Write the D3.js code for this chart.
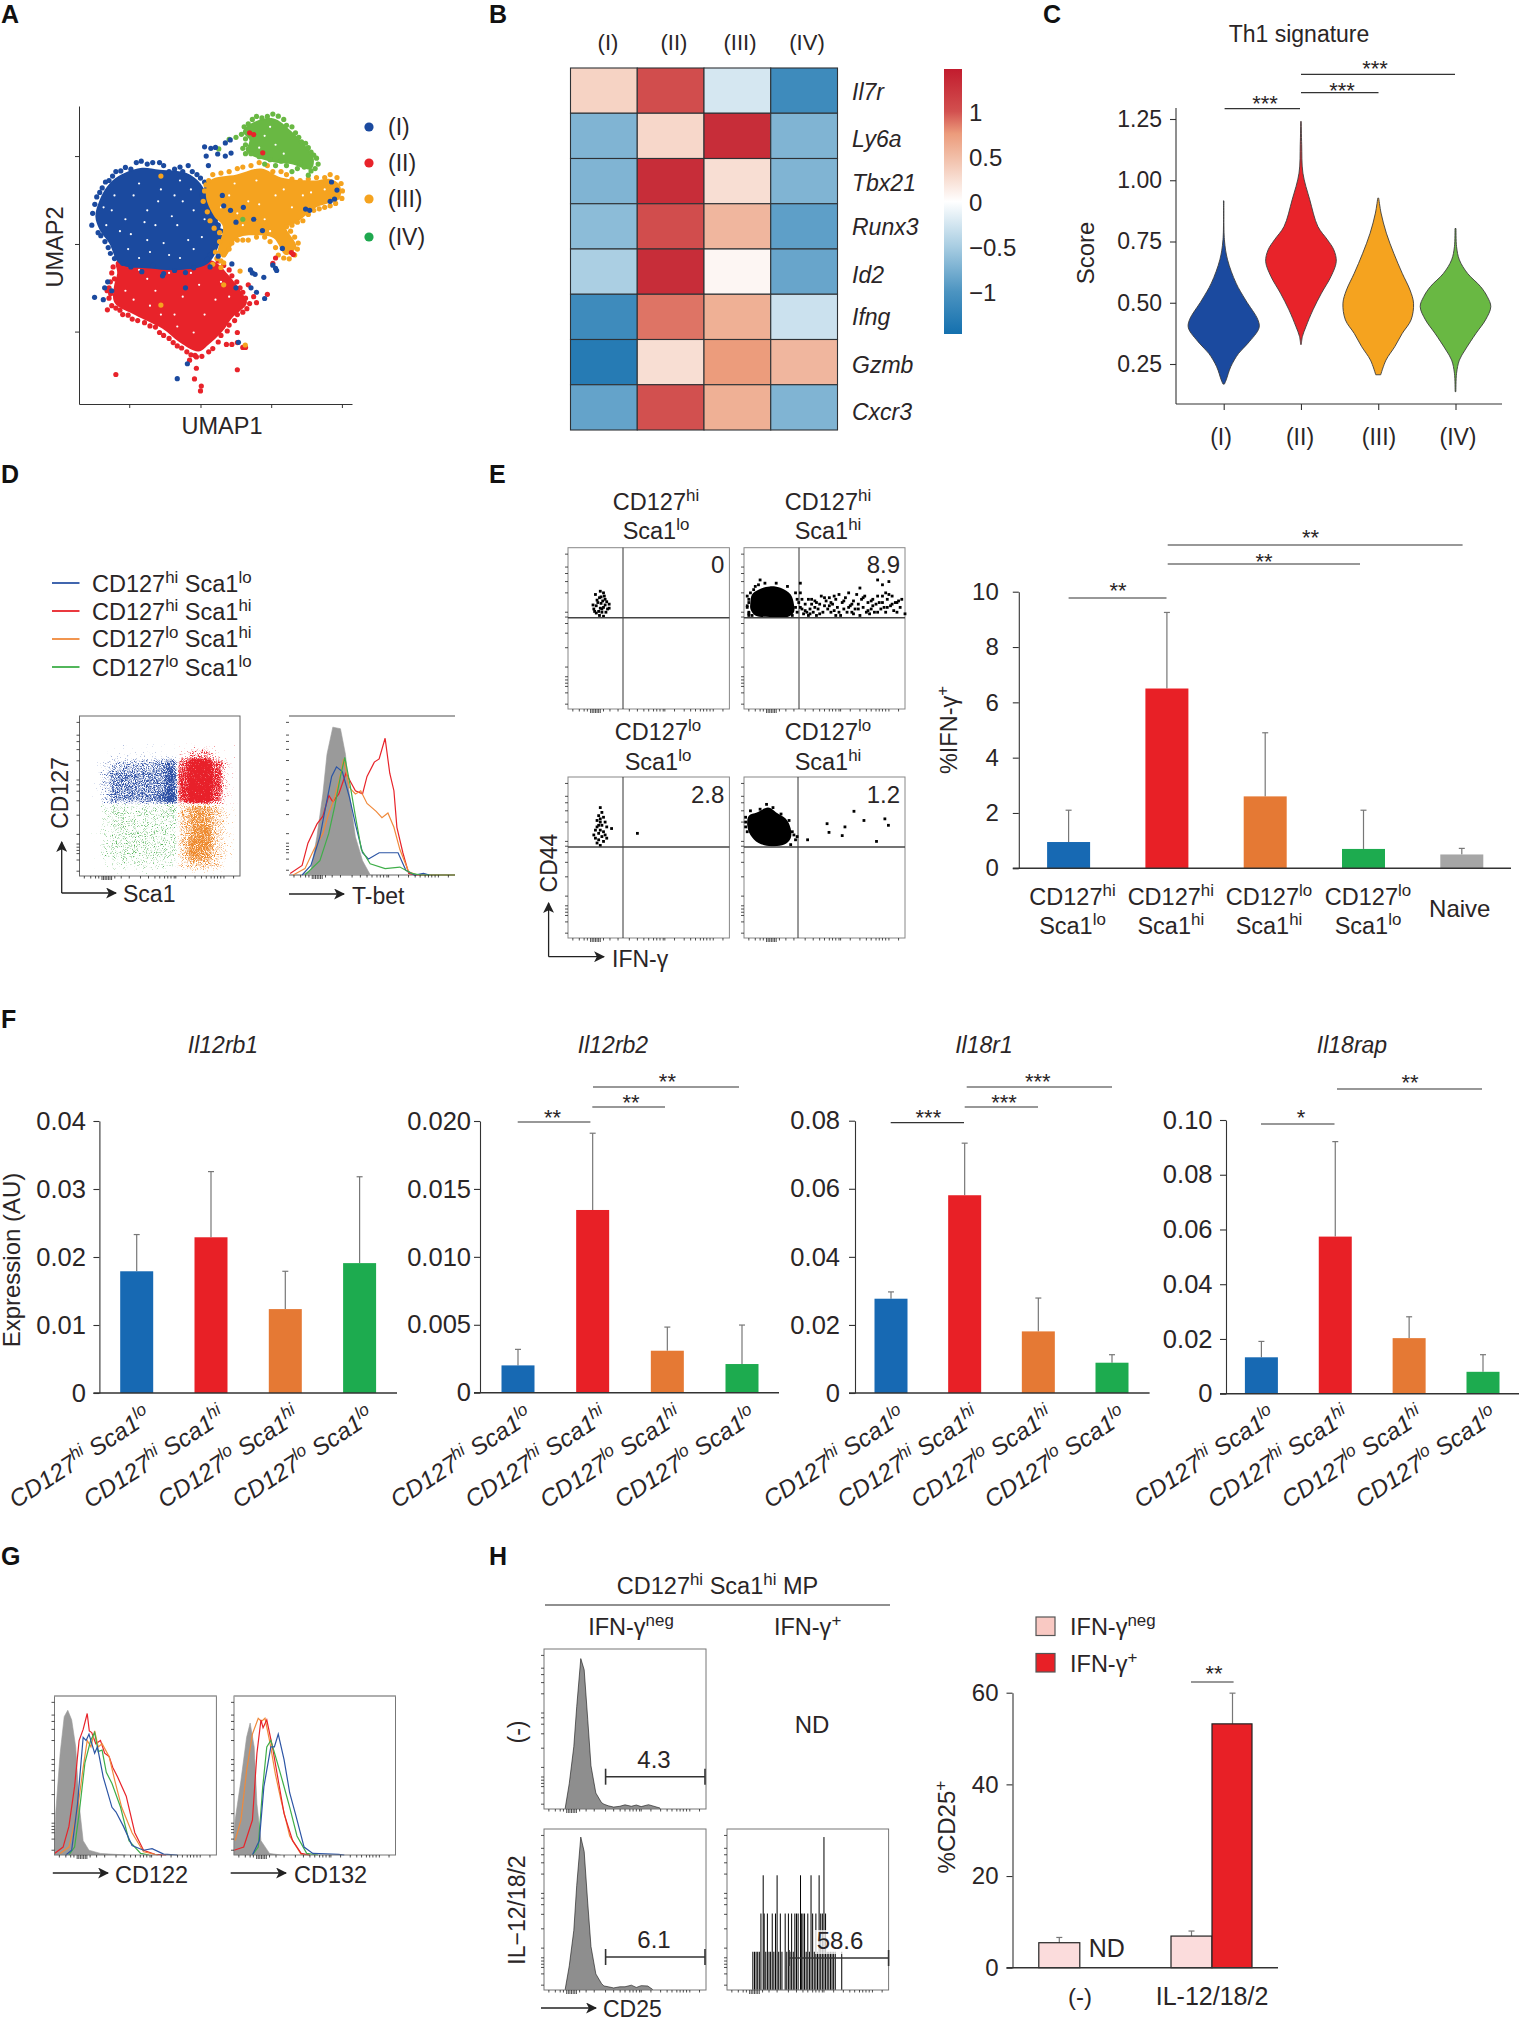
<!DOCTYPE html>
<html><head><meta charset="utf-8">
<script src="https://cdn.jsdelivr.net/npm/d3@7"></script>
<style>
html,body{margin:0;padding:0;background:#fff}
text{font-family:"Liberation Sans",Arial,sans-serif;fill:#2a2526}
</style></head><body>
<script>
// ---------- Shared colours / categories ----------
const clusterNames=["(I)","(II)","(III)","(IV)"];
const clusterColors=["#1b4a9f","#e8232a","#f5a31f","#69b843"];
const clusterDots=["#1b4a9f","#e8232a","#f5a31f","#1fa84f"];
const gateLabels=["CD127{hi} Sca1{lo}","CD127{hi} Sca1{hi}","CD127{lo} Sca1{hi}","CD127{lo} Sca1{lo}"];
const gateColors=["#1769b3","#e82026","#e57934","#1dab4f"];
const lineColors=["#2c55a5","#e8232a","#f08a3c","#3fae49"];

// ---------- A: UMAP ----------
const umapXTicks=[18.4,44.5,70.4,96.3], umapYTicks=[83.2,53.7,24.3];
const umapCoreI=[[6,62.9],[7.6,68.5],[10.3,73],[14.5,76.5],[22.5,79.2],[29.6,78.6],[39.4,77.5],[44.5,74],[47.5,68.5],[50,62.9],[52,58.4],[51,52.8],[47,47],[36.7,45],[26,45.5],[15,47],[11,54],[7.6,58.4]];
const umapCoreII=[[13.7,47.8],[24.3,48],[38.5,48],[49.1,48],[55,43],[59.5,37.5],[61.5,33.9],[56,28.8],[52.5,24.3],[47.3,19.8],[43.8,17.6],[36.7,20.8],[30.5,25.3],[20.7,29.8],[13,34],[12.8,39.4],[14,43.9]];
const umapCoreIII=[[48,75],[57.8,77],[66.8,79],[74,76],[86.4,75],[92,75.5],[95.5,73.5],[95.5,69],[92,67.5],[87,66],[82,62.5],[78,60],[75.7,59.6],[79.6,52.8],[75.7,50],[71.3,55.6],[65,56.6],[58,55.6],[53.5,49.5],[51,50.7],[52.7,59.6],[49.5,63],[46.5,69.6]];
const umapCoreIV=[[60,91.4],[65,95],[71.3,95.8],[77.5,91.8],[82.8,86.8],[86,82.2],[85,78.8],[77.5,80.5],[70.4,81.3],[61.5,84.6],[62.4,88.6]];
const umapEdgeI=[[4.7,60],[5,64],[5.8,67],[6.5,69.5],[7.6,71],[8.5,72.5],[9.7,74.5],[11,75],[12.3,76.5],[13.5,78],[15.3,78.2],[17,79.4],[19,78.8],[21,81],[22.8,81.5],[25,80.5],[27,81],[29.5,81],[31,80],[33,78],[35,78.8],[37,79.5],[38,78],[40,80],[41.5,78],[43.2,77],[44.5,75.8],[46,74.5],[46.5,72],[45,70],[47.5,69.5],[47,66],[49.5,65],[50,62],[51,60],[52,58],[52.3,55.8],[50.5,54],[49.5,51.5],[48,50],[47,48.5],[8,56.5],[9.5,54.5],[10.7,52.5],[11.5,50.5],[13,48.8],[7,57.5],[16,47.2],[19,46],[23,44.4],[27,46.5],[31,43.8],[35,44.8],[39,44.1],[42,45.7]];
const umapEdgeII=[[12.5,46],[12,44],[13,42],[11.5,41],[11,39],[11.6,37],[11,35.5],[12,33],[13.5,32.2],[15,31.5],[16,30],[18,29.8],[19.5,28.5],[21.5,28],[24,27.3],[26,26.2],[28,25.8],[29.5,24],[31,23],[33,22],[34.5,20.6],[36,19.5],[37.6,18.8],[39.5,17.5],[41,16.5],[43,15.8],[45,16],[47.5,17.5],[49,18.6],[51,20.8],[52,23],[54.3,24.5],[55,26.5],[57,28],[58,30],[60,30.8],[61.5,32],[62.5,33.7],[61,35.5],[60,37.5],[59,39],[57.8,41],[56,43],[55,45],[53,46.5],[51,48]];
const umapEdgeIII=[[46,71.5],[45.5,68],[47,64.5],[48,61.5],[49.5,59],[51.5,57.5],[51.5,54.5],[50,51],[50.5,48.8],[52,48],[53,50],[55,52],[56,54],[58,55],[60,55],[62,55],[65,56],[68,56],[70,54.5],[72,52.5],[73,50],[75,49],[77,48.7],[79,50],[80,52],[80.3,54],[79,56],[77.5,58],[76,59.5],[78,60],[80,61],[82,61.5],[84,63.6],[86,65],[88,65.5],[90,66],[92,66.5],[94,67.3],[96.3,69],[96.5,71.5],[96,74],[94.5,76],[92,77],[90,76],[87,76],[84,75.5],[81,75],[78,75.5],[76,77],[74,78],[71,78],[69,80],[66,81],[63,80],[60,79.5],[58,79],[55,78],[52,77.5],[49,77],[47.5,75],[46.5,73.5]];
const umapEdgeIV=[[59.5,90.5],[60.5,93],[62,94],[63.5,95.5],[65,96.5],[67,96],[69,96.5],[71,97.3],[73,96.6],[75,95.5],[76,93.5],[78,93],[79.3,91],[80.5,89.5],[81.5,88],[83,87.5],[84,86],[85,84.5],[86,83.5],[87,82.5],[87.6,80.5],[86.5,79],[85,78.2],[84,76.8],[82.5,79.5],[81,81],[80,79],[78,78],[76,80],[74,81.5],[72,80],[70,82],[68,80.5],[66,83],[63,84],[61,84],[60,85.8],[61,87],[62,85.5],[61,89]];
const umapHolesI=[[15,58],[20,70],[25,65],[30,72],[36,60],[40,55],[18,52],[25,55],[33,50],[42,65],[12,65],[28,60],[35,70],[22,74],[45,56],[38,68],[17,62],[31,54],[26,51],[42,52],[10,60],[24,61],[37,75],[13,70],[19,57],[29,68],[34,63],[41,72],[46,62],[22,49],[37,49],[9,66]];
const umapHolesII=[[20,35],[28,38],[35,30],[44,40],[38,36],[25,42],[50,35],[33,44],[17,38],[46,30],[55,36],[42,24],[30,30],[22,45],[41,44],[52,41],[36,26],[26,33]];
const umapHolesIII=[[55,70],[62,68],[68,62],[72,70],[60,60],[78,66],[85,71],[65,75],[52,66],[70,58],[57,74],[75,72],[82,70],[90,72],[58,64],[66,67]];
const umapHolesIV=[[68,90],[72,87],[75,84],[66,86],[70,93]];
const umapDotsI=[[47.4,80],[46,86.3],[46.6,83.2],[48.3,85.8],[50,86.1],[53.6,87.6],[55.4,88.6],[55.7,84.2],[53.6,83.2],[50.8,83.9],[52.5,70],[53,66.5],[55.5,65],[57.5,61],[60.2,66],[64,62],[67.2,58.2],[83,65.4],[84.5,65],[92,68],[93.6,68.8],[92.5,74.5],[94.5,71.8],[5.7,35.8],[8.9,35],[9.4,39],[10.5,41],[12,38],[56,47],[57.5,39],[62.8,45],[64.5,43.5],[67.7,42.5],[72,45.5],[72.4,44.8],[63,39],[68,35.4],[65,37.5],[63.5,44],[30.6,43],[39,39],[48,46],[51,49.6],[58.4,20.7],[39.7,13.5],[36,8.5],[74.5,52.2],[71,46.6]];
const umapDotsII=[[10.3,38],[10.4,31.6],[58,24],[62,40],[64,36],[69,36.8],[58,11.5],[42.5,16.3],[40.5,14.7],[43,12],[42.3,8.4],[44.8,6],[44.5,4.4],[13.5,9.9],[65,34],[71,47.2],[72,49],[78.5,50.2],[77.8,50.8],[62.5,91],[64,90.4],[67.3,84.3],[56,20],[58,20.6],[60,19],[61,19],[54,20]];
const umapDotsIII=[[53,47.4],[52,45.8],[49,46.9],[59,44.6],[53,40],[60.9,19.8],[30,33.2],[30,76.5]];
const umapDotsIV=[[57.5,89.5],[55,88.8],[51.2,85.6],[60,62]];

// ---------- B: heatmap ----------
const heatColumns=["(I)","(II)","(III)","(IV)"];
const heatRows=["Il7r","Ly6a","Tbx21","Runx3","Id2","Ifng","Gzmb","Cxcr3"];
const heatValues=[[0.33,1.03,-0.24,-1.12],[-0.72,0.3,1.32,-0.72],[-0.72,1.32,0.25,-0.72],[-0.65,1.03,0.55,-0.9],[-0.48,1.32,0.07,-0.85],[-1.12,0.88,0.6,-0.3],[-1.32,0.25,0.75,0.55],[-0.87,1.0,0.6,-0.72]];
const heatDomain=[-1.47,-1,-0.5,0,0.5,0.75,1,1.47];
const heatRange=["#1470ae","#4c94c1","#a8cde2","#ffffff","#f1bda6","#ec9c7c","#d2504f","#c21c2e"];
const heatTicks=[1,0.5,0,-0.5,-1];

// ---------- C: violins (score, relative density) ----------
const violinI=[[0.916,0.007],[0.757,0.02],[0.675,0.11],[0.58,0.35],[0.511,0.62],[0.43,0.97],[0.397,1],[0.335,0.69],[0.293,0.42],[0.239,0.2],[0.185,0.07],[0.168,0.02]];
const violinII=[[1.24,0.007],[1.145,0.02],[1.029,0.055],[0.92,0.25],[0.811,0.48],[0.757,0.75],[0.716,0.93],[0.668,1],[0.607,0.85],[0.539,0.58],[0.471,0.34],[0.402,0.14],[0.362,0.04],[0.33,0.01]];
const violinIII=[[0.927,0.014],[0.866,0.08],[0.784,0.23],[0.702,0.44],[0.62,0.68],[0.552,0.9],[0.498,1],[0.43,0.93],[0.375,0.68],[0.321,0.47],[0.266,0.22],[0.206,0.07]];
const violinIV=[[0.803,0.014],[0.729,0.03],[0.675,0.11],[0.62,0.34],[0.566,0.71],[0.525,0.9],[0.484,1],[0.43,0.85],[0.375,0.58],[0.307,0.27],[0.266,0.11],[0.212,0.03],[0.137,0.01]];
const violinTicks=[1.25,1.00,0.75,0.50,0.25];

// ---------- D: flow density + T-bet histogram ----------
const densityCD127Sca1=[
 [0,1,1,1,1,1,1,2,4,4,2,0],
 [2,4,4,4,4,5,6,6,9,9,6,2],
 [3,5,5,5,5,5,7,7,9,9,7,2],
 [3,5,5,5,5,5,7,7,9,9,7,2],
 [3,5,5,5,5,6,8,7,9,9,6,2],
 [2,3,3,3,3,3,4,4,6,6,4,2],
 [2,3,3,3,3,3,3,4,6,6,4,2],
 [2,3,3,3,3,3,3,4,6,7,4,2],
 [2,3,3,3,3,3,3,4,7,7,4,2],
 [2,3,3,3,3,3,3,4,7,6,4,2],
 [1,2,2,2,2,2,2,3,4,4,3,1]];
const tbetGray=[[0,0],[7.9,0],[13.2,3],[16.8,24],[20.4,51],[22.9,76],[26.4,93],[31,92],[34,76],[36.4,51],[40,24],[44.3,9],[49,0]];
const tbetRed=[[0.7,1],[7.9,6],[11.4,20],[16.8,32],[20.4,37],[24,50],[26.4,46],[30,51],[34.3,64],[40,53],[44.3,51],[47,62],[51.4,71],[54.3,73],[57.9,86],[60.7,64],[63.2,53],[65,30],[68.6,14],[72.1,1],[75.7,0],[100,0]];
const tbetOrange=[[2.5,0],[9.6,4],[15,16],[20.4,26],[24,39],[27.5,49],[30.3,60],[32.9,73],[36.4,55],[40,51],[43.2,53],[47,45],[52.5,40],[56,36],[59.6,39],[63.2,30],[66.8,16],[72.1,2],[77.5,0]];
const tbetBlue=[[7.9,0],[13.2,6],[18.6,24],[22.1,43],[25.7,62],[28.6,68],[32.1,65],[36.4,49],[40,32],[44.3,14],[47.9,10],[54.3,14],[59.6,14],[65.7,14],[70.4,3],[75.7,0],[81,1],[84.6,0]];
const tbetGreen=[[9.6,0],[18.6,9],[23.9,26],[27.5,43],[31,62],[33.6,74],[36.4,59],[40,37],[43.6,16],[48.9,7],[57.9,4],[66.8,5],[73.9,1],[79.3,0],[100,0]];
const flowTicks=[3,7,10,12,14,15,16,17,18,19,20,22,26,31,38,43,47,50,53,55,57,59,60,66,72,76,79,82,84,86,88,90,96];

// ---------- E: IFN-γ plots and bars ----------
const dotsP1=[[17,71],[20,73],[22,72],[19.5,69],[22.5,70],[24,66.5],[18.5,66],[20.5,65.5],[23,64.5],[25.5,65],[17.5,64],[20,62.5],[22,63],[24.5,62],[16,62],[19,60.5],[21,60],[23.5,60],[25.5,62.5],[19.5,58],[22,57.5],[17.5,59.5],[21.5,67],[20.5,69.5],[15.5,64.5],[18,67.5],[21,62],[23,68],[16.5,60.5]];
const coreP2=[[4,66],[5,71],[9,74],[16,76],[23,75],[29,71],[31,65],[31,60],[27,57],[16,57],[7,58],[4,62]];
const dotsP2=[[2,70],[3,66],[4,72],[2,63],[3,60],[3,59],[3,68],[6,74],[2,64],[3,58],[7,76],[5,58],[9,77],[10,80],[13,78],[20,78],[27,76],[32,72],[33,68],[32,63],[33,60],[30,58],[34,66],[35,72],[35,78],[36,62],[37,59],[38,65],[39,60],[40,58],[41,62],[42,65],[42,68],[43,60],[44,63],[44,67],[45,58],[46,62],[47,65],[48,70],[49,60],[50,64],[51,67],[52,62],[53,69],[54,60],[55,65],[56,61],[57,68],[58,63],[59,71],[60,58],[61,66],[62,62],[63,69],[64,60],[65,72],[66,64],[67,60],[68,67],[69,62],[70,71],[71,65],[72,58],[73,68],[74,63],[75,70],[76,60],[77,66],[78,59],[79,62],[80,68],[81,60],[82,65],[83,70],[84,66],[85,62],[86,66],[87,63],[88,60],[89,68],[90,71],[91,64],[92,70],[93,61],[94,66],[95,60],[96,67],[97,63],[100,59],[83,80],[90,79],[72,75],[86,77],[45,66],[47,59],[50,69],[53,64],[56,70],[59,60],[62,67],[65,63],[68,59],[71,62],[74,69],[77,61],[80,64],[83,60],[86,70],[89,63],[92,65],[95,66],[98,68],[88,72],[79,67],[67,65],[54,66],[41,59],[38,61],[35,63],[36,68],[40,68],[57,58]];
const dotsP3=[[20,81],[21,78],[19,76],[22,75],[18,73],[20,72],[23,72],[21,70],[18,69],[24,69],[17,67],[20,67],[22,66],[27,68],[19,65],[23,64],[16,64],[21,63],[24,62],[19,61],[22,60],[18,59],[20,57.5],[43,65],[19,70],[17,62],[20,74]];
const coreP4=[[2,70],[3,76],[8,78],[15,81],[20,78],[26,74],[29,68],[29,62],[25,58],[17,57],[9,59],[4,64]];
const dotsP4=[[1,75],[1,72],[1,69],[2,66],[4,79],[10,80],[14,83],[18,81],[23,77],[28,73],[30,66],[31,64],[33,63],[29,58],[32,61],[39.5,61],[51.6,71],[52.8,65.6],[61,63.6],[62.7,69],[68.3,78.7],[74.5,73],[82.3,60],[87.5,74],[89.7,70]];
const ifnCats=["CD127{hi}|Sca1{lo}","CD127{hi}|Sca1{hi}","CD127{lo}|Sca1{hi}","CD127{lo}|Sca1{lo}","Naive"];
const ifnValues=[0.95,6.5,2.6,0.7,0.5];
const ifnErrTop=[2.1,9.25,4.9,2.1,0.72];
const ifnColors=["#1769b3","#e82026","#e57934","#1dab4f","#a6a6a6"];
const ifnTicks=[0,2,4,6,8,10];

// ---------- F: expression bars ----------
const il12rb1Values=[0.0179,0.0229,0.01234,0.0191], il12rb1Err=[0.0233,0.03256,0.0179,0.0318];
const il12rb2Values=[0.00201,0.01345,0.00309,0.00211], il12rb2Err=[0.00319,0.0191,0.00483,0.00498];
const il18r1Values=[0.0277,0.0581,0.0181,0.0089], il18r1Err=[0.0297,0.0734,0.0279,0.01125];
const il18rapValues=[0.0133,0.0574,0.0203,0.008], il18rapErr=[0.0191,0.0921,0.0281,0.01425];
const il12rb1Ticks=["0","0.01","0.02","0.03","0.04"];
const il12rb2Ticks=["0","0.005","0.010","0.015","0.020"];
const il18r1Ticks=["0","0.02","0.04","0.06","0.08"];
const il18rapTicks=["0","0.02","0.04","0.06","0.08","0.10"];

// ---------- G: histograms ----------
const cd122Gray=[[0,0],[0.7,26],[3.5,64],[6,87],[8.2,91],[10.6,85],[13.1,68],[15.2,32],[17.7,9],[21.3,3],[28.4,1],[44,0]];
const cd122Red=[[0,1],[5.3,5],[8.9,18],[12.4,43],[15.2,72],[17.7,79],[20.2,89],[21.5,78],[23,77],[25.5,70],[28.4,72],[31,64],[33.7,62],[36,55],[39,49],[44.3,37],[49.6,14],[55,3],[62,0.4],[69,0]];
const cd122Orange=[[3.5,1],[8.9,5],[14.2,28],[17.7,55],[20.2,72],[22.5,68],[24.8,78],[27,68],[29.4,70],[33.7,62],[37.2,47],[41.5,30],[47.9,14],[55,2],[63.8,0]];
const cd122Green=[[8.9,0],[12.4,5],[15.2,26],[18.8,58],[22.3,72],[24.8,77],[27,65],[29.4,66],[32,52],[35.5,45],[40.8,30],[46,9],[53.2,1],[58.5,0]];
const cd122Blue=[[7,0],[10.6,3],[14.2,32],[17.7,74],[19.5,72],[21.3,76],[24.8,64],[26.5,68],[30.1,49],[35.5,30],[38,27],[42.6,18],[47.9,6],[55,3],[60.3,4],[67.4,0.6],[76,0]];
const cd132Gray=[[0,0],[0.7,22],[4.3,47],[7.8,74],[10,83],[12.5,68],[14.2,32],[16.7,9],[22,1],[29,0]];
const cd132Orange=[[0.7,9],[4.3,22],[7.8,53],[11.4,76],[15,86],[17,84],[19.2,86],[22,72],[25.6,51],[29,35],[34.5,12],[41.6,0.4],[47,0]];
const cd132Red=[[0,3],[6,5],[11.4,22],[14.2,64],[16.7,85],[18,80],[20.3,85],[23.8,68],[27.4,47],[31,26],[36.3,9],[41.6,1],[47,0]];
const cd132Green=[[11.4,0],[15,5],[17.8,43],[20.3,68],[22.8,72],[26.3,60],[29.9,47],[34.5,30],[39,12],[45,1],[52,0]];
const cd132Blue=[[11.4,0],[15.7,9],[18.5,43],[22.8,68],[25,68],[27.4,76],[31,60],[34.5,39],[38,26],[43.4,5],[48.8,1],[64.8,0.4],[68.3,0]];

// ---------- H: CD25 ----------
const cd25Unstim=[[13.1,0.6],[15.6,16],[18.4,39],[20.2,64],[22.7,94],[24.8,87],[27,56],[29,27],[32,10],[35.5,4],[37,3],[39.7,2],[43,1.2],[46.8,1.7],[50,2.6],[53.9,1.7],[57,2.5],[60,1.5],[64.5,2.7],[71.6,0.6]];
const cd25Stim=[[13.1,0.6],[15.6,15],[18.4,37],[20.2,65],[22.7,95],[24.8,86],[27,54],[29,27],[32,10],[35.5,4],[37,2.5],[39.7,2],[43,1.3],[46.8,2],[50,2],[53.9,3],[57,1.6],[60,2.7],[64,2.5],[67,0.4]];
const cd25PosSpikes=[[16,1],[17,1],[18,1],[19,1],[20,1],[21,2],[22.4,3],[23,2],[24,1],[25,2],[26,1],[27,1],[28,2],[29,1],[30,2],[31,3],[32,1],[33,2],[34,1],[36,2],[37,1],[38,2],[39,1],[40,2],[41,1],[42,2],[43,2],[44,2],[45.5,3],[46,2],[47,2],[48,2],[49,1],[50,2],[51,1],[52,3],[53,2],[54,1],[55,2],[56,1],[57,3],[58,2],[59,2],[60,4],[61,2],[62,1],[63,1],[64,1],[65,1],[66,1],[67,1],[71,1]];
const cd25Categories=["(-)","IL-12/18/2"];
const cd25NegValues=[5.45,6.9], cd25NegErr=[6.6,8];
const cd25PosValue=53.2, cd25PosErr=59.9;
const cd25Ticks=[0,20,40,60];

// ========== drawing ==========
const svg=d3.select("body").append("svg").attr("width",1519).attr("height",2019).style("display","block");
const defs=svg.append("defs");
const ink="#2a2526";

function rich(g,x,y,str,o={}){
  const fs=o.size||23, t=g.append("text").attr("x",x).attr("y",y).attr("font-size",fs)
    .attr("text-anchor",o.anchor||"start");
  if(o.italic)t.attr("font-style","italic");
  if(o.transform)t.attr("transform",o.transform);
  if(o.fill)t.style("fill",o.fill);
  if(o.weight)t.attr("font-weight",o.weight);
  const parts=str.split(/(\{[^}]*\})/).filter(s=>s.length);
  const rise=fs*0.38; let raised=false;
  parts.forEach(p=>{
    const sup=p[0]==="{";
    const s=t.append("tspan").text(sup?p.slice(1,-1):p);
    if(sup){s.attr("font-size",fs*0.72).attr("dy",-rise);raised=true;}
    else if(raised){s.attr("dy",rise);raised=false;}
  });
  return t;
}
function vtext(g,x,y,str,o={}){return rich(g,x,y,str,{...o,anchor:"middle",transform:`rotate(-90 ${x} ${y})`});}
function seg(g,x1,y1,x2,y2,c=ink,w=1.2){return g.append("line").attr("x1",x1).attr("y1",y1).attr("x2",x2).attr("y2",y2).attr("stroke",c).attr("stroke-width",w);}
function stars(g,x1,x2,y,xc,yc,s){
  seg(g,x1,y,x2,y,"#333",1.2);
  g.append("text").attr("x",xc).attr("y",yc+12.5).attr("text-anchor","middle").attr("font-size",22).text(s);
}
defs.append("marker").attr("id","arr").attr("viewBox","0 0 10 10").attr("refX",9).attr("refY",5)
  .attr("markerWidth",11).attr("markerHeight",11).attr("markerUnits","userSpaceOnUse").attr("orient","auto")
  .append("path").attr("d","M0,0L10,5L0,10L2.5,5Z").attr("fill","#222");
function arrow(g,x1,y1,x2,y2){seg(g,x1,y1,x2,y2,"#222",1.3).attr("marker-end","url(#arr)");}

[["A",1,23],["B",489,23],["C",1043,23],["D",1,483],["E",489,483],["F",1,1028],["G",1,1565],["H",489,1565]]
 .forEach(d=>svg.append("text").attr("x",d[1]).attr("y",d[2]).attr("font-size",25).attr("font-weight","bold").style("fill","#111").text(d[0]));

// ---------- Panel A ----------
(function(){
  const g=svg.append("g");
  const x=d3.scaleLinear([0,100],[79,352]), y=d3.scaleLinear([0,100],[404,106]);
  const line=d3.line(d=>x(d[0]),d=>y(d[1])).curve(d3.curveCatmullRomClosed);
  const dots=(pts,c,r=2.6)=>g.append("g").selectAll("circle").data(pts).join("circle")
      .attr("cx",d=>x(d[0])).attr("cy",d=>y(d[1])).attr("r",r).attr("fill",c);
  const blue=clusterDots[0], red=clusterDots[1], or=clusterDots[2], gr=clusterColors[3];
  [[umapCoreII,red,umapEdgeII,umapHolesII],[umapCoreI,blue,umapEdgeI,umapHolesI],[umapCoreIII,or,umapEdgeIII,umapHolesIII],[umapCoreIV,gr,umapEdgeIV,umapHolesIV]].forEach(([core,c,edge,holes])=>{
    g.append("path").attr("d",line(core)).attr("fill",c);
    dots(edge,c);
    dots(holes,"#fff",1.1);
  });
  dots(umapDotsII,red); dots(umapDotsIII,or); dots(umapDotsIV,gr); dots(umapDotsI,blue);
  const ax=g.append("g").attr("transform","translate(0,404)").call(d3.axisBottom(x).tickValues(umapXTicks).tickSize(4).tickSizeOuter(0).tickFormat(""));
  const ay=g.append("g").attr("transform","translate(79,0)").call(d3.axisLeft(y).tickValues(umapYTicks).tickSize(4).tickSizeOuter(0).tickFormat(""));
  [ax,ay].forEach(a=>a.selectAll("path,line").attr("stroke","#333"));
  clusterNames.forEach((n,i)=>{
    const cy=[127,163,199,237][i];
    g.append("circle").attr("cx",369).attr("cy",cy).attr("r",4.6).attr("fill",clusterDots[i]);
    rich(g,388,cy+8,n,{size:23});
  });
  rich(g,222,434,"UMAP1",{size:23.5,anchor:"middle"});
  vtext(g,63,247,"UMAP2",{size:23.5});
})();

// ---------- Panel B ----------
(function(){
  const g=svg.append("g");
  const x=d3.scaleBand(heatColumns,[570.5,837.5]), y=d3.scaleBand(heatRows,[68,430]);
  const col=d3.scaleLinear(heatDomain,heatRange);
  heatRows.forEach((r,i)=>heatColumns.forEach((c,j)=>{
    g.append("rect").attr("x",x(c)).attr("y",y(r)).attr("width",x.bandwidth()).attr("height",y.bandwidth())
     .attr("fill",col(heatValues[i][j])).attr("stroke","#2e3236").attr("stroke-width",1.1);
  }));
  const colX=[608,674,740,807];
  heatColumns.forEach((c,j)=>rich(g,colX[j],50,c,{size:22,anchor:"middle"}));
  const rowBase=[100,147,191,235,283,325,373,420];
  heatRows.forEach((r,i)=>rich(g,852,rowBase[i],r,{size:23,italic:true}));
  const grad=defs.append("linearGradient").attr("id","hg").attr("x1",0).attr("y1",1).attr("x2",0).attr("y2",0);
  heatDomain.forEach((d,i)=>grad.append("stop").attr("offset",(d+1.47)/2.94).attr("stop-color",heatRange[i]));
  g.append("rect").attr("x",944).attr("y",69).attr("width",18).attr("height",265).attr("fill","url(#hg)");
  const cs=d3.scaleLinear([-1,1],[292,112]);
  heatTicks.forEach(t=>rich(g,969,cs(t)+9,(t<0?"\u2212":"")+Math.abs(t),{size:24}));
})();

// ---------- Panel C ----------
(function(){
  const g=svg.append("g");
  const y=d3.scaleLinear([0.25,1.25],[364,119]);
  const x=d3.scalePoint(clusterNames,[1223.7,1455.5]);
  const w=d3.scaleLinear([0,1],[0,35.3]);
  [violinI,violinII,violinIII,violinIV].forEach((v,i)=>{
    const c=x(clusterNames[i]);
    const a=d3.area().y(d=>y(d[0])).x0(d=>c-w(d[1])).x1(d=>c+w(d[1])).curve(d3.curveCatmullRom);
    g.append("path").attr("d",a(v)).attr("fill",clusterColors[i]).attr("stroke","#3c3c3c").attr("stroke-width",0.9);
  });
  const ay=g.append("g").attr("transform","translate(1176,0)").call(d3.axisLeft(y).tickValues(violinTicks).tickFormat(d3.format(".2f")).tickSize(6).tickSizeOuter(0).tickPadding(8));
  ay.select(".domain").attr("d","M0,108V404");
  const ax=g.append("g").attr("transform","translate(0,404)").call(d3.axisBottom(x).tickSize(6).tickSizeOuter(0).tickFormat(""));
  ax.select(".domain").attr("d","M1176,0H1502");
  [ax,ay].forEach(a=>{a.selectAll("path,line").attr("stroke","#333").attr("stroke-width",1.1);});
  ay.selectAll("text").attr("font-size",23).attr("font-family","Liberation Sans").style("fill",ink);
  clusterNames.forEach((n,i)=>rich(g,[1221,1300,1379,1458][i],445,n,{size:23,anchor:"middle"}));
  rich(g,1299,42,"Th1 signature",{size:23,anchor:"middle"});
  vtext(g,1094,253,"Score",{size:24});
  stars(g,1224.6,1300,108.7,1265,98,"***");
  stars(g,1301,1378.5,92.7,1342,85,"***");
  stars(g,1301,1455,74.3,1375,63,"***");
})();

// ---------- Flow helpers ----------
function flowTickMarks(g,x,y,box,c="#222"){
  const t=flowTicks;
  g.append("g").selectAll("line").data(t).join("line").attr("x1",d=>x(d)).attr("x2",d=>x(d))
    .attr("y1",box.b).attr("y2",d=>box.b+((d>=14&&d<=20)?4:2.5)).attr("stroke",c).attr("stroke-width",0.8);
  g.append("g").selectAll("line").data(t.filter((d,i)=>i%2==0)).join("line").attr("y1",d=>y(d)).attr("y2",d=>y(d))
    .attr("x1",box.l).attr("x2",box.l-3).attr("stroke",c).attr("stroke-width",0.8);
}
function hist(g,box,curves){
  const x=d3.scaleLinear([0,100],[box.l,box.r]), y=d3.scaleLinear([0,100],[box.b,box.t]);
  curves.forEach(([pts,c,fill])=>{
    const p=d3.line(d=>x(d[0]),d=>y(d[1]));
    g.append("path").attr("d",p(fill?[[pts[0][0],0],...pts,[pts[pts.length-1][0],0]]:pts))
     .attr("fill",fill||"none").attr("stroke",c).attr("stroke-width",fill?0.6:1.2);
  });
  return {x,y};
}

// ---------- Panel D ----------
(function(){
  const g=svg.append("g");
  gateLabels.forEach((l,i)=>{
    const ly=[583,611,639,667][i], by=[592,620,647,676][i];
    seg(g,52,ly,79.5,ly,lineColors[i],1.8);
    rich(g,92,by,l,{size:23.5});
  });
  const box={l:79.5,r:240,t:716,b:876};
  const x=d3.scaleLinear([0,100],[box.l,box.r]), y=d3.scaleLinear([0,100],[box.b,box.t]);
  const colEdges=d3.range(12), rowEdges=d3.range(11);
  const cx=c=>12+c*7, ry=r=>80-r*7;
  const quads=[{c:[0,7],r:[0,5],col:"#2c4fa5",k:"q1"},{c:[7,12],r:[0,5],col:"#e8202a",k:"q2"},{c:[7,12],r:[5,11],col:"#ee8a2e",k:"q3"},{c:[0,7],r:[5,11],col:"#4cb050",k:"q4"}];
  quads.forEach(q=>{
    const f=defs.append("filter").attr("id","grain"+q.k).attr("x","-10%").attr("y","-10%").attr("width","120%").attr("height","120%").attr("color-interpolation-filters","sRGB");
    f.append("feGaussianBlur").attr("in","SourceAlpha").attr("stdDeviation",2.4).attr("result","b");
    f.append("feTurbulence").attr("type","fractalNoise").attr("baseFrequency",1.1).attr("numOctaves",2).attr("seed",4).attr("result","n");
    f.append("feColorMatrix").attr("in","n").attr("type","matrix").attr("values","0 0 0 0 0 0 0 0 0 0 0 0 0 0 0 0 0 0 1 0").attr("result","na");
    f.append("feComposite").attr("in","b").attr("in2","na").attr("operator","arithmetic").attr("k1",0).attr("k2",2.6).attr("k3",3.5).attr("k4",-2.7).attr("result","m");
    f.append("feFlood").attr("flood-color",q.col).attr("result","fl");
    f.append("feComposite").attr("in","fl").attr("in2","m").attr("operator","in");
    defs.append("clipPath").attr("id",q.k).append("rect")
      .attr("x",q.c[0]==0?x(0):x(61)).attr("y",q.r[0]==0?y(100):y(45)).attr("width",q.c[0]==0?x(61)-x(0):x(100)-x(61)).attr("height",q.r[0]==0?y(45)-y(100):y(0)-y(45));
    const h=g.append("g").attr("clip-path",`url(#${q.k})`).append("g").attr("filter",`url(#grain${q.k})`);
    rowEdges.filter(r=>r>=q.r[0]&&r<q.r[1]).forEach(r=>colEdges.filter(c=>c>=q.c[0]&&c<q.c[1]).forEach(c=>{
      h.append("rect").attr("x",x(cx(c))).attr("y",y(ry(r))).attr("width",x(7)-x(0)).attr("height",y(0)-y(7))
       .attr("fill","#000").attr("opacity",densityCD127Sca1[r][c]/9);
    }));
  });
  g.append("rect").attr("x",box.l).attr("y",box.t).attr("width",box.r-box.l).attr("height",box.b-box.t).attr("fill","none").attr("stroke","#666").attr("stroke-width",1);
  flowTickMarks(g,x,y,box);
  vtext(g,68,793,"CD127",{size:23});
  arrow(g,61.7,893,61.7,842);
  arrow(g,61.7,893,116,893);
  rich(g,123,902,"Sca1",{size:23});

  const hb={l:289,r:455,t:716,b:875};
  seg(g,hb.l,hb.t,hb.r,hb.t,"#888",1.6);
  seg(g,hb.l,hb.b,hb.r,hb.b,"#666",1);
  const s=hist(g,hb,[[tbetGray,"#9a9a9a","#9a9a9a"],[tbetRed,lineColors[1]],[tbetOrange,lineColors[2]],[tbetBlue,lineColors[0]],[tbetGreen,lineColors[3]]]);
  flowTickMarks(g,s.x,s.y,hb);
  arrow(g,289,894,344,894);
  rich(g,352,904,"T-bet",{size:23});
})();

// ---------- Panel E plots ----------
(function(){
  const g=svg.append("g");
  const panels=[
   {b:{l:568,r:729.4,t:547.7,b:709},v:623,h:617.7,dots:dotsP1,val:"0",tx:656,y1:510,y2:539,l1:"CD127{hi}",l2:"Sca1{lo}",vb:573},
   {b:{l:744,r:905,t:547.7,b:709},v:799,h:617.7,dots:dotsP2,core:coreP2,val:"8.9",tx:828,y1:510,y2:539,l1:"CD127{hi}",l2:"Sca1{hi}",vb:573},
   {b:{l:568,r:729.4,t:777,b:938},v:623,h:847,dots:dotsP3,val:"2.8",tx:658,y1:740,y2:770,l1:"CD127{lo}",l2:"Sca1{lo}",vb:803},
   {b:{l:744,r:905,t:777,b:938},v:798,h:847,dots:dotsP4,core:coreP4,val:"1.2",tx:828,y1:740,y2:770,l1:"CD127{lo}",l2:"Sca1{hi}",vb:803}];
  panels.forEach(p=>{
    const x=d3.scaleLinear([0,100],[p.b.l,p.b.r]), y=d3.scaleLinear([0,100],[p.b.b,p.b.t]);
    g.append("rect").attr("x",p.b.l).attr("y",p.b.t).attr("width",p.b.r-p.b.l).attr("height",p.b.b-p.b.t).attr("fill","none").attr("stroke","#888").attr("stroke-width",1);
    seg(g,p.v,p.b.t,p.v,p.b.b,"#333",1);
    if(p.core)g.append("path").attr("d",d3.line(d=>x(d[0]),d=>y(d[1])).curve(d3.curveCatmullRomClosed)(p.core)).attr("fill","#000");
    g.append("g").selectAll("rect").data(p.dots).join("rect").attr("x",d=>x(d[0])-1.4).attr("y",d=>y(d[1])-1.4).attr("width",2.8).attr("height",2.8).attr("fill","#000");
    seg(g,p.b.l,p.h,p.b.r,p.h,"#444",1.4);
    flowTickMarks(g,x,y,p.b);
    rich(g,p.tx,p.y1,p.l1,{size:23.5,anchor:"middle"});
    rich(g,p.tx,p.y2,p.l2,{size:23.5,anchor:"middle"});
    rich(g,p.b.r-5,p.vb,p.val,{size:24,anchor:"end"});
  });
  vtext(g,557,863,"CD44",{size:23});
  arrow(g,548.6,956.7,548.6,903);
  arrow(g,548.6,956.7,604,956.7);
  rich(g,612,967,"IFN-\u03b3",{size:23});
})();

// ---------- Bar helper ----------
function barAxis(g,y,axisX,ticks,labels,right,size,pad){
  const a=g.append("g").attr("transform",`translate(${axisX},0)`)
    .call(d3.axisLeft(y).tickValues(ticks).tickFormat((d,i)=>labels[i]).tickSize(6).tickSizeOuter(0).tickPadding(pad));
  a.selectAll("path,line").attr("stroke","#333").attr("stroke-width",1.1);
  a.selectAll("text").attr("font-size",size).attr("font-family","Liberation Sans").style("fill",ink);
  seg(g,axisX-6,y(0),right,y(0),"#333",1.4);
}
function err(g,x,y0,y1,capW=6){
  seg(g,x,y0,x,y1,"#777",1.2); seg(g,x-capW/2,y1,x+capW/2,y1,"#777",1.2);
}

// ---------- Panel E bars ----------
(function(){
  const g=svg.append("g");
  const y=d3.scaleLinear([0,10],[868.3,591.7]);
  const x=d3.scalePoint(ifnCats,[1068.6,1461.8]);
  ifnCats.forEach((c,i)=>{
    err(g,x(c),y(ifnValues[i]),y(ifnErrTop[i]));
    g.append("rect").attr("x",x(c)-21.5).attr("width",43).attr("y",y(ifnValues[i])).attr("height",y(0)-y(ifnValues[i])).attr("fill",ifnColors[i]);
  });
  barAxis(g,y,1018.8,ifnTicks,ifnTicks.map(String),1511,24,14);
  const lc=[1072.5,1170.8,1269,1368];
  ifnCats.slice(0,4).forEach((c,i)=>{
    const [a,b]=c.split("|");
    rich(g,lc[i],905,a,{size:23.5,anchor:"middle"}); rich(g,lc[i],934,b,{size:23.5,anchor:"middle"});
  });
  rich(g,1459.8,917,"Naive",{size:24,anchor:"middle"});
  vtext(g,957,730,"%IFN-\u03b3{+}",{size:23.5});
  stars(g,1068.6,1166.5,598,1118,585,"**");
  stars(g,1167.7,1360,564,1264,556,"**");
  stars(g,1167.7,1462.6,545,1310.6,532,"**");
})();

// ---------- Panel F ----------
(function(){
  const g=svg.append("g");
  const plots=[
   {title:"Il12rb1",tx:223,ax:99.4,y0:1393,yt:1121,max:0.04,right:397,c:[136.7,359.6],v:il12rb1Values,e:il12rb1Err,tk:[0,0.01,0.02,0.03,0.04],tl:il12rb1Ticks,pad:7.5,br:[]},
   {title:"Il12rb2",tx:613,ax:480,y0:1392.7,yt:1121,max:0.02,right:779,c:[518,742],v:il12rb2Values,e:il12rb2Err,tk:[0,0.005,0.01,0.015,0.02],tl:il12rb2Ticks,pad:3,
     br:[[517.7,590.4,1122,552.6,1112,"**"],[592.3,665,1107,631,1097,"**"],[593,739,1087,667.4,1076,"**"]]},
   {title:"Il18r1",tx:984,ax:855,y0:1393,yt:1120.7,max:0.08,right:1149.6,c:[891,1112],v:il18r1Values,e:il18r1Err,tk:[0,0.02,0.04,0.06,0.08],tl:il18r1Ticks,pad:9,
     br:[[890.7,964,1122.7,928.4,1112,"***"],[964.7,1038,1107,1004,1097,"***"],[966.7,1112,1087,1037.8,1076,"***"]]},
   {title:"Il18rap",tx:1352,ax:1226,y0:1393.7,yt:1120,max:0.1,right:1519,c:[1261.4,1483],v:il18rapValues,e:il18rapErr,tk:[0,0.02,0.04,0.06,0.08,0.1],tl:il18rapTicks,pad:7.5,
     br:[[1261,1334.5,1124,1301,1112,"*"],[1337,1482,1089,1410,1077,"**"]]}];
  plots.forEach(p=>{
    const y=d3.scaleLinear([0,p.max],[p.y0,p.yt]);
    const x=d3.scalePoint(gateLabels,p.c);
    gateLabels.forEach((l,i)=>{
      err(g,x(l),y(p.v[i]),y(p.e[i]));
      g.append("rect").attr("x",x(l)-16.5).attr("width",33).attr("y",y(p.v[i])).attr("height",y(0)-y(p.v[i])).attr("fill",gateColors[i]);
      const ax=x(l)+16, ay=1420;
      rich(g,ax,ay,l,{size:24,italic:true,anchor:"end",transform:`rotate(-33 ${ax} ${ay})`});
    });
    barAxis(g,y,p.ax,p.tk,p.tl,p.right,25.5,p.pad);
    rich(g,p.tx,1053,p.title,{size:23,italic:true,anchor:"middle"});
    p.br.forEach(b=>stars(g,b[0],b[1],b[2],b[3],b[4],b[5]));
  });
  vtext(g,20,1260,"Expression (AU)",{size:24});
})();

// ---------- Panel G ----------
(function(){
  const g=svg.append("g");
  const ps=[
   {b:{l:54.5,r:216.4,t:1696,b:1855},c:[[cd122Gray,"#9a9a9a","#9a9a9a"],[cd122Red,lineColors[1]],[cd122Orange,lineColors[2]],[cd122Green,lineColors[3]],[cd122Blue,lineColors[0]]],x1:52.8,x2:108,tx:115,t:"CD122"},
   {b:{l:234,r:395.5,t:1696,b:1855},c:[[cd132Gray,"#9a9a9a","#9a9a9a"],[cd132Orange,lineColors[2]],[cd132Red,lineColors[1]],[cd132Green,lineColors[3]],[cd132Blue,lineColors[0]]],x1:230.7,x2:286,tx:294,t:"CD132"}];
  ps.forEach(p=>{
    const s=hist(g,p.b,p.c);
    g.append("rect").attr("x",p.b.l).attr("y",p.b.t).attr("width",p.b.r-p.b.l).attr("height",p.b.b-p.b.t).attr("fill","none").attr("stroke","#777").attr("stroke-width",1);
    seg(g,p.b.l,p.b.t,p.b.r,p.b.t,"#aaa",1.6);
    flowTickMarks(g,s.x,s.y,p.b);
    arrow(g,p.x1,1873,p.x2,1873);
    rich(g,p.tx,1883,p.t,{size:23.5});
  });
})();

// ---------- Panel H flows ----------
(function(){
  const g=svg.append("g");
  rich(g,717.5,1594,"CD127{hi} Sca1{hi} MP",{size:23.5,anchor:"middle"});
  seg(g,545,1605,890,1605,"#222",1.2);
  rich(g,631,1635,"IFN-\u03b3{neg}",{size:23.5,anchor:"middle"});
  rich(g,807.6,1635,"IFN-\u03b3{+}",{size:23.5,anchor:"middle"});
  rich(g,812,1733,"ND",{size:24,anchor:"middle"});
  vtext(g,525,1732,"(-)",{size:23});
  vtext(g,525,1910,"IL\u221212/18/2",{size:23});
  const gate=(x1,x2,y,val,vx)=>{
    seg(g,x1,y,x2,y,"#333",1.6); seg(g,x1,y-8,x1,y+8,"#333",1.6); seg(g,x2,y-8,x2,y+8,"#333",1.6);
    return rich(g,vx,y-9,val,{size:24,anchor:"middle"});
  };
  const b1={l:544,r:706,t:1649,b:1809}, b3={l:544,r:706,t:1829,b:1990}, b4={l:727,r:888.6,t:1829,b:1990};
  [[b1,cd25Unstim],[b3,cd25Stim]].forEach(([b,c])=>{
    const s=hist(g,b,[[c,"#111","#8e8e8e"]]);
    g.append("rect").attr("x",b.l).attr("y",b.t).attr("width",b.r-b.l).attr("height",b.b-b.t).attr("fill","none").attr("stroke","#777");
    flowTickMarks(g,s.x,s.y,b);
  });
  const x4=d3.scaleLinear([0,100],[b4.l,b4.r]), y4=d3.scaleLinear([0,100],[b4.b,b4.t]), lv=d3.scaleLinear([0,4],[0,95]);
  g.append("g").selectAll("line").data(cd25PosSpikes).join("line").attr("x1",d=>x4(d[0])).attr("x2",d=>x4(d[0]))
    .attr("y1",y4(0)).attr("y2",d=>y4(lv(d[1]))).attr("stroke","#000").attr("stroke-width",1);
  g.append("rect").attr("x",b4.l).attr("y",b4.t).attr("width",b4.r-b4.l).attr("height",b4.b-b4.t).attr("fill","none").attr("stroke","#777");
  flowTickMarks(g,x4,y4,b4);
  gate(605.6,705,1776.7,"4.3",654);
  gate(605.6,705,1957,"6.1",654);
  g.append("rect").attr("x",815).attr("y",1930).attr("width",50).attr("height",24).attr("fill","#fff").attr("opacity",0.75);
  gate(789,888.6,1958,"58.6",840);
  arrow(g,541,2008,596,2008);
  rich(g,603,2017,"CD25",{size:23});
})();

// ---------- Panel H bars ----------
(function(){
  const g=svg.append("g");
  const y=d3.scaleLinear([0,60],[1967.7,1692.7]);
  const x=d3.scaleOrdinal(cd25Categories,[1059.3,1191.5]);
  cd25Categories.forEach((c,i)=>{
    err(g,x(c),y(cd25NegValues[i]),y(cd25NegErr[i]));
    g.append("rect").attr("x",x(c)-20.5).attr("width",41).attr("y",y(cd25NegValues[i])).attr("height",y(0)-y(cd25NegValues[i]))
     .attr("fill","#fbdcdc").attr("stroke","#222").attr("stroke-width",1.2);
  });
  err(g,1232.5,y(cd25PosValue),y(cd25PosErr));
  g.append("rect").attr("x",1212).attr("width",40).attr("y",y(cd25PosValue)).attr("height",y(0)-y(cd25PosValue)).attr("fill","#e82026").attr("stroke","#222").attr("stroke-width",1.2);
  barAxis(g,y,1012.5,cd25Ticks,cd25Ticks.map(String),1278,24,8);
  rich(g,1088.7,1957,"ND",{size:25});
  rich(g,1080,2005,cd25Categories[0],{size:24,anchor:"middle"});
  rich(g,1212,2005,cd25Categories[1],{size:25,anchor:"middle"});
  vtext(g,955,1827,"%CD25{+}",{size:24});
  stars(g,1191,1233.6,1682,1214,1668,"**");
  [[1617,"#f9c9c3","IFN-\u03b3{neg}",1635],[1653.5,"#e82026","IFN-\u03b3{+}",1672]].forEach(d=>{
    g.append("rect").attr("x",1036).attr("y",d[0]).attr("width",19).attr("height",18.5).attr("fill",d[1]).attr("stroke","#555").attr("stroke-width",1.2);
    rich(g,1070,d[3],d[2],{size:23.5});
  });
})();
</script>
</body></html>
